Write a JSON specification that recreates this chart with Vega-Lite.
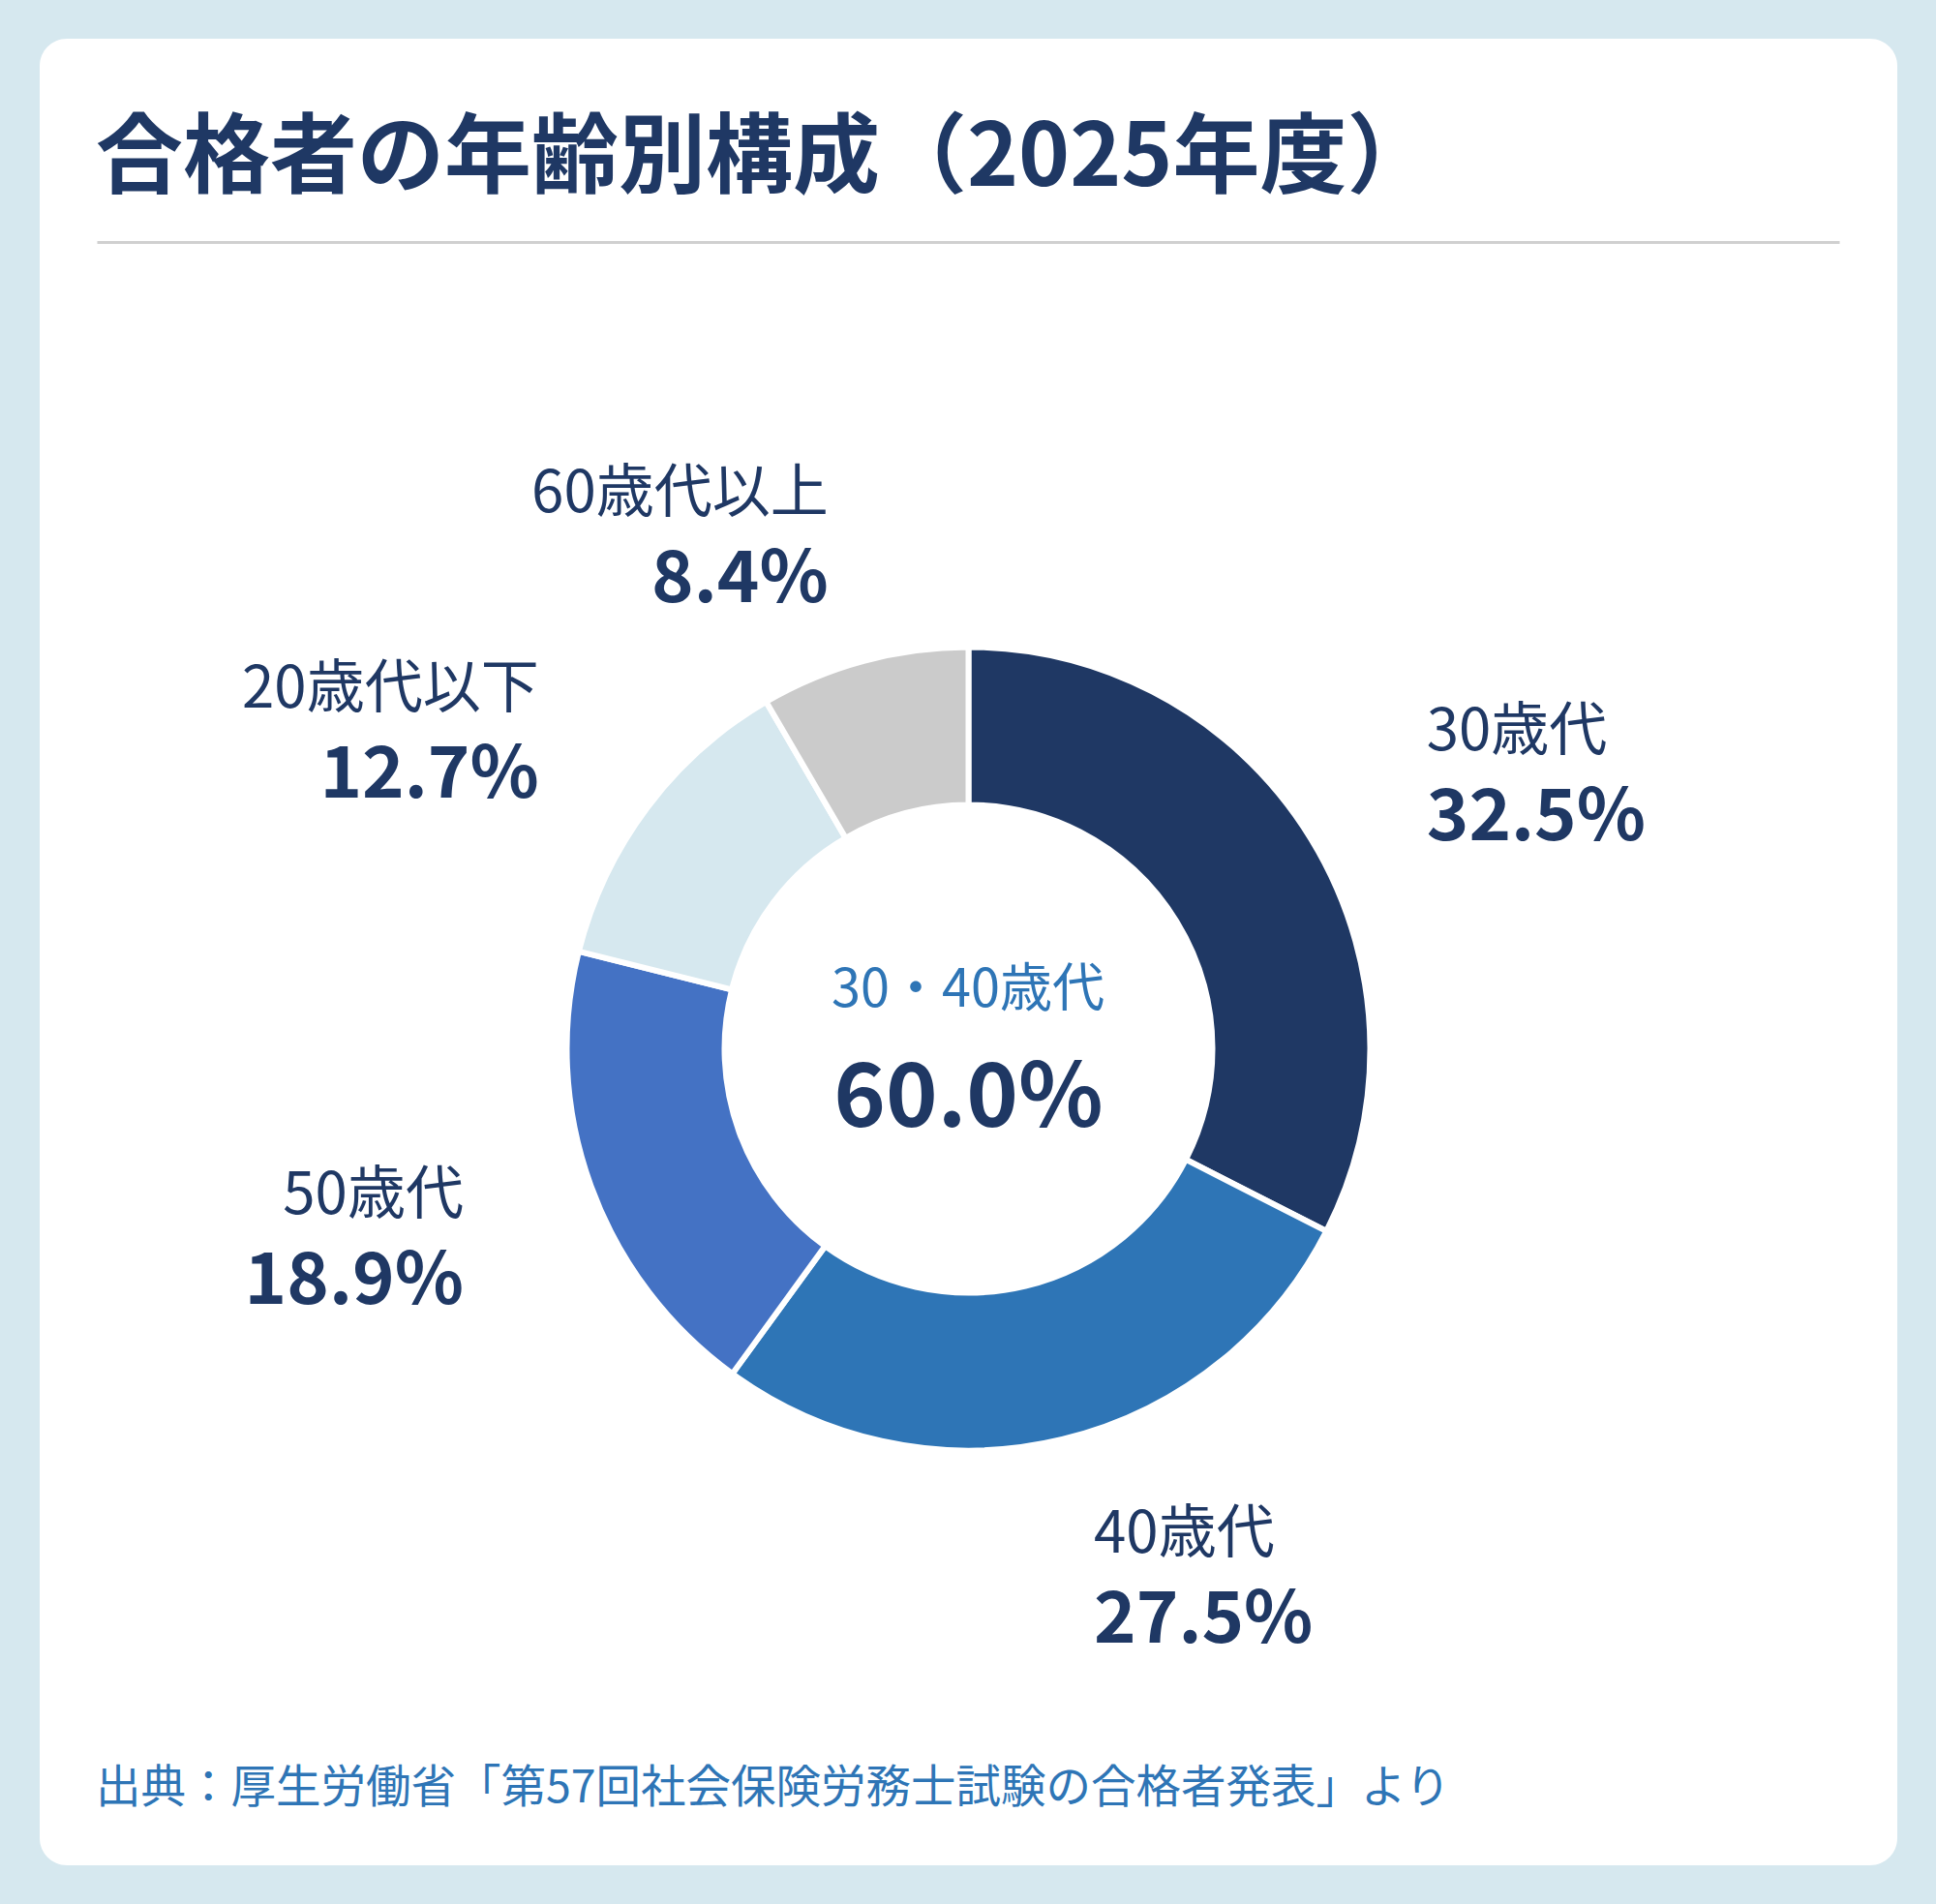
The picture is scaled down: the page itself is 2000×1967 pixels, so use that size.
{
  "$schema": "https://vega.github.io/schema/vega-lite/v6.json",
  "autosize": "none",
  "width": 1919,
  "height": 1887,
  "padding": {"left": 41, "top": 40, "right": 40, "bottom": 40},
  "background": "#d6e8ef",
  "title": {
    "text": "合格者の年齢別構成（2025年度）",
    "subtitle": "出典：厚生労働省「第57回社会保険労務士試験の合格者発表」より",
    "anchor": "start",
    "frame": "group",
    "orient": "top",
    "dx": 58,
    "offset": -1832,
    "font": "Noto Sans CJK JP",
    "fontSize": 90,
    "fontWeight": "bold",
    "color": "#1f3864",
    "subtitleFont": "Noto Sans CJK JP",
    "subtitleFontSize": 46.5,
    "subtitleFontWeight": "normal",
    "subtitleColor": "#2e75b6",
    "subtitlePadding": 1614
  },
  "data": {
    "values": [
      {"idx": 1, "age": "30歳代", "pct": 0.325},
      {"idx": 2, "age": "40歳代", "pct": 0.275},
      {"idx": 3, "age": "50歳代", "pct": 0.189},
      {"idx": 4, "age": "20歳代以下", "pct": 0.127},
      {"idx": 5, "age": "60歳代以上", "pct": 0.084}
    ]
  },
  "encoding": {
    "theta": {"field": "pct", "type": "quantitative", "stack": true},
    "order": {"field": "idx", "type": "quantitative"}
  },
  "layer": [
    {
      "mark": {
        "type": "arc",
        "outerRadius": 415,
        "innerRadius": 252,
        "stroke": "white",
        "strokeWidth": 6,
        "yOffset": 100
      },
      "encoding": {
        "color": {
          "field": "age",
          "type": "nominal",
          "scale": {
            "domain": ["30歳代", "40歳代", "50歳代", "20歳代以下", "60歳代以上"],
            "range": ["#1f3864", "#2e75b6", "#4472c4", "#d6e8ef", "#cbcbcb"]
          },
          "legend": null
        }
      }
    },
    {
      "mark": {
        "type": "text",
        "radius": 555,
        "yOffset": 100,
        "dy": -37,
        "baseline": "middle",
        "align": {"expr": "datum.pct_start + datum.pct_end < 1 ? 'left' : 'right'"},
        "font": "Noto Sans CJK JP",
        "fontSize": 60,
        "color": "#1f3864"
      },
      "encoding": {
        "text": {"field": "age", "type": "nominal"}
      }
    },
    {
      "mark": {
        "type": "text",
        "radius": 555,
        "yOffset": 100,
        "dy": 52,
        "baseline": "middle",
        "align": {"expr": "datum.pct_start + datum.pct_end < 1 ? 'left' : 'right'"},
        "font": "Noto Sans CJK JP",
        "fontSize": 74,
        "fontWeight": "bold",
        "color": "#1f3864"
      },
      "encoding": {
        "text": {"field": "pct", "type": "quantitative", "format": ".1%"}
      }
    },
    {
      "data": {"values": [{"group": "30・40歳代", "share": 0.6}]},
      "mark": {
        "type": "text",
        "yOffset": 100,
        "dy": -60,
        "baseline": "middle",
        "align": "center",
        "font": "Noto Sans CJK JP",
        "fontSize": 54,
        "color": "#2e75b6"
      },
      "encoding": {
        "theta": null,
        "order": null,
        "x": {
          "datum": 0.5,
          "type": "quantitative",
          "scale": {"domain": [0, 1], "range": [59, 1859]},
          "axis": {
            "orient": "top",
            "offset": -210,
            "domain": true,
            "domainColor": "#d0d0d0",
            "domainWidth": 3,
            "ticks": false,
            "labels": false,
            "grid": false,
            "title": null
          }
        },
        "text": {"field": "group", "type": "nominal"}
      }
    },
    {
      "data": {"values": [{"group": "30・40歳代", "share": 0.6}]},
      "mark": {
        "type": "text",
        "yOffset": 100,
        "dy": 53,
        "baseline": "middle",
        "align": "center",
        "font": "Noto Sans CJK JP",
        "fontSize": 91,
        "fontWeight": "bold",
        "color": "#1f3864"
      },
      "encoding": {
        "theta": null,
        "order": null,
        "text": {"field": "share", "type": "quantitative", "format": ".1%"}
      }
    }
  ],
  "config": {
    "view": {"fill": "white", "stroke": null, "cornerRadius": 28},
    "font": "Noto Sans CJK JP"
  }
}
